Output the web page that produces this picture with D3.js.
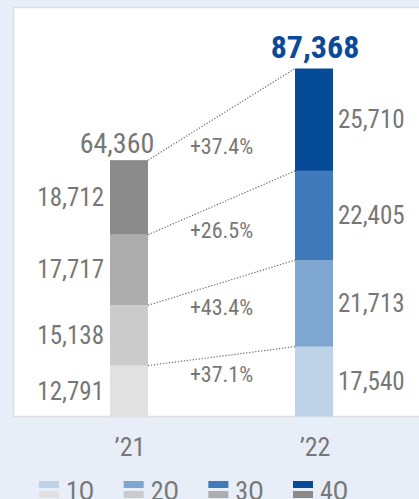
<!DOCTYPE html>
<html>
<head>
<meta charset="utf-8">
<script src="https://cdn.jsdelivr.net/npm/d3@7"></script>
<style>
  html, body { margin: 0; padding: 0; background: #e7eef7; }
  svg { display: block; }
  text { font-family: "Liberation Sans Narrow", "Arial Narrow", "Roboto Condensed", Roboto, sans-serif; }
</style>
</head>
<body>
<svg id="chart" width="419" height="499"></svg>
<script>
// ---- data ----
const years = ["’21", "’22"];
const quarters = ["1Q", "2Q", "3Q", "4Q"];
const values21 = [12791, 15138, 17717, 18712];
const values22 = [17540, 21713, 22405, 25710];
const totals = [64360, 87368];
const growthLabels = ["+37.1%", "+43.4%", "+26.5%", "+37.4%"];
const colors21 = ["#e1e1e1", "#cbcbcb", "#adadad", "#8b8b8b"];
const colors22 = ["#bed3e8", "#7fa6d0", "#3f7aba", "#054b97"];

const svg = d3.select("#chart");
const textGray = "#777777";

// panel
svg.append("rect").attr("x", 13.5).attr("y", 7.5).attr("width", 410).attr("height", 409)
  .attr("fill", "#ffffff").attr("stroke", "#dcdfe3").attr("stroke-width", 1.5);

const x = d3.scaleBand().domain(years).range([54.5, 388.5]).paddingInner(0.7946).paddingOuter(0.3);
const y = d3.scaleLinear().domain([0, totals[1]]).range([416.5, 68.5]);

const series = [values21, values22];
const palettes = [colors21, colors22];

// stacked segments
const stacks = series.map(vals => {
  let acc = 0;
  return vals.map(v => { const s = { y0: acc, y1: acc + v, v }; acc += v; return s; });
});

// dotted connectors
const boundaries = [1, 2, 3, 4].map(i => ({
  a: d3.sum(values21.slice(0, i)),
  b: d3.sum(values22.slice(0, i))
}));
const x21r = x(years[0]) + x.bandwidth();
const x22l = x(years[1]);
svg.append("g").selectAll("line").data(boundaries).join("line")
  .attr("x1", x21r).attr("y1", d => y(d.a))
  .attr("x2", x22l).attr("y2", d => y(d.b))
  .attr("stroke", "#6f6f6f").attr("stroke-width", 1.2)
  .attr("stroke-dasharray", "1.3,1.7");

// bars
stacks.forEach((segs, yi) => {
  svg.append("g").selectAll("rect").data(segs).join("rect")
    .attr("x", x(years[yi]))
    .attr("y", d => y(d.y1))
    .attr("width", x.bandwidth())
    .attr("height", d => y(d.y0) - y(d.y1))
    .attr("fill", (d, i) => palettes[yi][i]);
});

const fmt = d3.format(",");
// segment labels '21 (left)
svg.append("g").selectAll("text").data(stacks[0]).join("text")
  .attr("x", x(years[0]) - 6)
  .attr("y", d => (y(d.y0) + y(d.y1)) / 2 + 8.5)
  .attr("text-anchor", "end")
  .attr("font-size", 25).attr("fill", textGray)
  .text(d => fmt(d.v));

// segment labels '22 (right)
svg.append("g").selectAll("text").data(stacks[1]).join("text")
  .attr("x", x(years[1]) + x.bandwidth() + 5)
  .attr("y", d => (y(d.y0) + y(d.y1)) / 2 + 8.5)
  .attr("text-anchor", "start")
  .attr("font-size", 25).attr("fill", textGray)
  .text(d => fmt(d.v));

// totals
svg.append("text")
  .attr("x", x(years[0]) + x.bandwidth() / 2 - 12)
  .attr("y", y(totals[0]) - 7)
  .attr("text-anchor", "middle")
  .attr("font-size", 28).attr("fill", textGray)
  .text(fmt(totals[0]));
svg.append("text")
  .attr("x", x(years[1]) + x.bandwidth() / 2 + 1)
  .attr("y", y(totals[1]) - 11)
  .attr("text-anchor", "middle")
  .attr("font-size", 32).attr("font-weight", "bold").attr("fill", "#0a4a98")
  .text(fmt(totals[1]));

// growth labels
const mids = boundaries.map(d => (y(d.a) + y(d.b)) / 2);
const midX = (x21r + x22l) / 2;
svg.append("g").selectAll("text").data(growthLabels).join("text")
  .attr("x", midX)
  .attr("y", (d, i) => {
    const upper = mids[i];
    const lower = i === 0 ? y(0) : mids[i - 1];
    return (upper + lower) / 2 - 12 + 7.5;
  })
  .attr("text-anchor", "middle")
  .attr("font-size", 22).attr("fill", textGray)
  .text(d => d);

// x axis labels
svg.append("g").selectAll("text").data(years).join("text")
  .attr("x", d => x(d) + x.bandwidth() / 2 + 1)
  .attr("y", 456)
  .attr("text-anchor", "middle")
  .attr("font-size", 26).attr("fill", textGray)
  .text(d => d);

// legend
const lx = d3.scalePoint().domain(quarters).range([39, 293]);
const lg = svg.append("g").selectAll("g").data(quarters).join("g")
  .attr("transform", d => `translate(${lx(d)},0)`);
lg.append("rect").attr("x", 0).attr("y", 481).attr("width", 20).attr("height", 7)
  .attr("fill", (d, i) => colors22[i]);
lg.append("rect").attr("x", 0).attr("y", 491).attr("width", 20).attr("height", 7)
  .attr("fill", (d, i) => colors21[i]);
lg.append("text").attr("x", 27).attr("y", 500)
  .attr("font-size", 26).attr("fill", textGray)
  .text(d => d);
</script>
</body>
</html>
